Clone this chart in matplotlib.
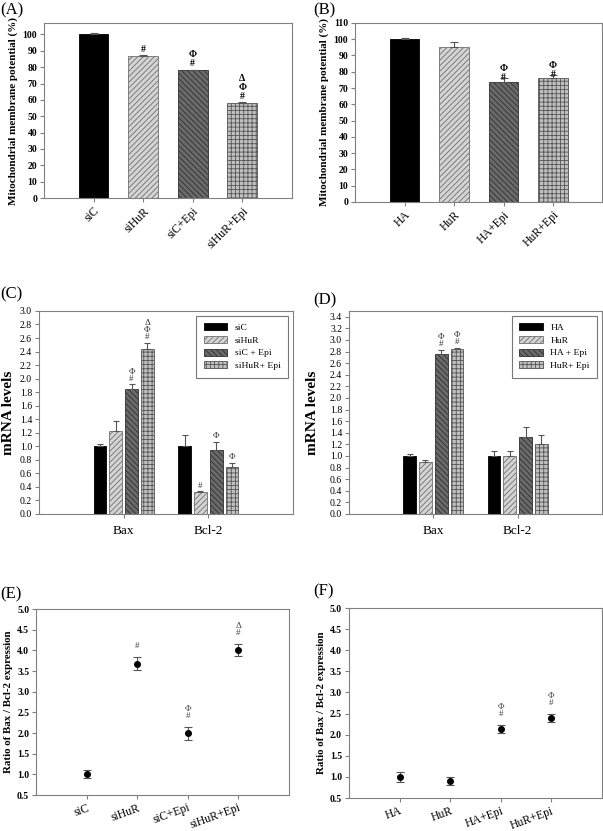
import numpy as np
import matplotlib.pyplot as plt

plt.rcParams['font.family'] = ['Liberation Serif', 'DejaVu Serif']
plt.rcParams['hatch.linewidth'] = 0.6

# ---- data ----
groups_si = ["siC", "siHuR", "siC+Epi", "siHuR+Epi"]
groups_ha = ["HA", "HuR", "HA+Epi", "HuR+Epi"]
legend_si = ["siC", "siHuR", "siC + Epi", "siHuR+ Epi"]
legend_ha = ["HA", "HuR", "HA + Epi", "HuR+ Epi"]
genes = ["Bax", "Bcl-2"]

mmp_si = [100, 87, 78, 58]
mmp_si_err = [1.2, 0.5, 0.5, 0.5]
mmp_si_sig = ["", "#", "Φ\n#", "Δ\nΦ\n#"]

mmp_ha = [100, 95, 74, 76]
mmp_ha_err = [1, 3, 2, 2]
mmp_ha_sig = ["", "", "Φ\n#", "Φ\n#"]

# rows = treatment group, cols = Bax, Bcl-2
mrna_si = [[1.0, 1.01], [1.23, 0.33], [1.85, 0.94], [2.44, 0.69]]
mrna_si_err = [[0.03, 0.15], [0.15, 0.01], [0.07, 0.13], [0.09, 0.07]]
mrna_si_sig = [["", ""], ["", "#"], ["Φ\n#", "Φ"], ["Δ\nΦ\n#", "Φ"]]

mrna_ha = [[1.0, 1.0], [0.9, 1.0], [2.76, 1.32], [2.85, 1.2]]
mrna_ha_err = [[0.04, 0.09], [0.03, 0.09], [0.07, 0.18], [0.02, 0.17]]
mrna_ha_sig = [["", ""], ["", ""], ["Φ\n#", ""], ["Φ\n#", ""]]

ratio_si = [1.0, 3.68, 1.99, 4.01]
ratio_si_err = [0.1, 0.15, 0.15, 0.15]
ratio_si_sig = ["", "#", "Φ\n#", "Δ\n#"]

ratio_ha = [1.0, 0.91, 2.13, 2.39]
ratio_ha_err = [0.12, 0.09, 0.09, 0.09]
ratio_ha_sig = ["", "", "Φ\n#", "Φ\n#"]

# bar styles: solid black, light hatched, dark hatched, crosshatched
styles = [
    dict(facecolor="black", edgecolor="black", hatch=None),
    dict(facecolor="#d4d4d4", edgecolor="#707070", hatch="//////"),
    dict(facecolor="#6a6a6a", edgecolor="#303030", hatch="\\\\\\\\\\\\"),
    dict(facecolor="#c0c0c0", edgecolor="#555555", hatch="++++"),
]

spine_col = "#808080"


def frame(ax):
    for s in ax.spines.values():
        s.set_color(spine_col)
        s.set_linewidth(0.8)
    ax.tick_params(direction="out", length=3, color=spine_col, width=0.8, pad=2)


def mmp_panel(ax, names, vals, errs, sig, ylim, ticks, sig_off=1):
    x = np.arange(len(names))
    for i in range(len(names)):
        st = styles[i]
        ax.bar(x[i], vals[i], width=0.6, facecolor=st["facecolor"], edgecolor=st["edgecolor"],
               hatch=st["hatch"], linewidth=0.6)
        ax.errorbar(x[i], vals[i], yerr=[[0], [errs[i]]], fmt="none", ecolor="#555555",
                    elinewidth=0.8, capsize=3, capthick=0.8)
        if sig[i]:
            ax.annotate(sig[i], xy=(x[i], vals[i] + errs[i]), xytext=(0, sig_off),
                        textcoords="offset points", ha="center", va="bottom",
                        fontsize=7, linespacing=1.0, fontweight="bold")
    ax.set_xlim(-1, 4)
    ax.set_ylim(*ylim)
    ax.set_yticks(ticks)
    frame(ax)
    ax.set_xticks(x)
    ax.set_xticklabels(names, rotation=45, ha="right", rotation_mode="anchor", fontsize=8.5)
    ax.set_ylabel("Mitochondrial membrane potential (%)", fontsize=8, fontweight="bold", labelpad=3)
    for lab in ax.get_yticklabels():
        lab.set_fontweight("bold")
        lab.set_fontsize(7)


def mrna_panel(ax, vals, errs, sig, labels, ylim, ticks, label_x):
    x = np.arange(len(genes))
    step = 0.187
    for i in range(len(vals)):
        st = styles[i]
        xs = x + (i - 1.5) * step
        ax.bar(xs, vals[i], width=0.15, facecolor=st["facecolor"], edgecolor=st["edgecolor"],
               hatch=st["hatch"], linewidth=0.6, label=labels[i])
        ax.errorbar(xs, vals[i], yerr=[np.zeros(len(genes)), errs[i]], fmt="none",
                    ecolor="#555555", elinewidth=0.8, capsize=2.5, capthick=0.8)
        for j in range(len(genes)):
            if sig[i][j]:
                ax.annotate(sig[i][j], xy=(xs[j], vals[i][j] + errs[i][j]), xytext=(0, 1),
                            textcoords="offset points", ha="center", va="bottom",
                            fontsize=6.5, linespacing=0.85, color="#333333")
    ax.set_xlim(-1, 2)
    ax.set_ylim(*ylim)
    frame(ax)
    ax.set_yticks(ticks)
    ax.set_yticklabels([f"{t:.1f}" for t in ticks], fontsize=7)
    ax.set_xticks(x)
    ax.set_xticklabels(genes, fontsize=9.5)
    ax.tick_params(axis="x", pad=5)
    ax.set_ylabel("mRNA levels", fontsize=11, fontweight="bold")
    ax.yaxis.set_label_coords(label_x, 0.5)
    leg = ax.legend(loc="upper right", fontsize=6.8, frameon=True, fancybox=False,
                    handlelength=2.5, handleheight=0.8, borderpad=0.8, labelspacing=0.4)
    leg.get_frame().set_edgecolor("#555555")
    leg.get_frame().set_linewidth(0.8)


def ratio_panel(ax, names, vals, errs, sig):
    x = np.arange(len(names))
    ax.errorbar(x, vals, yerr=errs, fmt="o", color="black", markersize=4,
                ecolor="#555555", elinewidth=0.8, capsize=3, capthick=0.8)
    for i in range(len(names)):
        if sig[i]:
            ax.annotate(sig[i], xy=(x[i], vals[i] + errs[i]), xytext=(0, 5),
                        textcoords="offset points", ha="center", va="bottom",
                        fontsize=6.5, linespacing=0.85, color="#444444")
    ax.set_xlim(-1, 4)
    ax.set_ylim(0.5, 5.0)
    frame(ax)
    ticks = np.arange(0.5, 5.01, 0.5)
    ax.set_yticks(ticks)
    ax.set_yticklabels([f"{t:.1f}" for t in ticks], fontsize=7, fontweight="bold")
    ax.set_xticks(x)
    ax.set_xticklabels(names, rotation=20, ha="right", rotation_mode="anchor", fontsize=8.5)
    ax.set_ylabel("Ratio of Bax / Bcl-2 expression", fontsize=7.8, fontweight="bold", labelpad=3)


fig = plt.figure(figsize=(6.03, 8.31), dpi=100)

axA = fig.add_axes([0.073, 0.7617, 0.411, 0.2106])
axB = fig.add_axes([0.589, 0.757, 0.410, 0.2154])
axC = fig.add_axes([0.0647, 0.3815, 0.421, 0.2443])
axD = fig.add_axes([0.5788, 0.3815, 0.4196, 0.2443])
axE = fig.add_axes([0.06, 0.0433, 0.419, 0.2238])
axF = fig.add_axes([0.5788, 0.0397, 0.4196, 0.2286])

mmp_panel(axA, groups_si, mmp_si, mmp_si_err, mmp_si_sig, (0, 107), np.arange(0, 101, 10))
mmp_panel(axB, groups_ha, mmp_ha, mmp_ha_err, mmp_ha_sig, (0, 110), np.arange(0, 111, 10), sig_off=-3)
mrna_panel(axC, mrna_si, mrna_si_err, mrna_si_sig, legend_si, (0, 3.0), np.arange(0, 3.01, 0.2), -0.095)
mrna_panel(axD, mrna_ha, mrna_ha_err, mrna_ha_sig, legend_ha, (0, 3.5), np.arange(0, 3.41, 0.2), -0.12)
ratio_panel(axE, groups_si, ratio_si, ratio_si_err, ratio_si_sig)
ratio_panel(axF, groups_ha, ratio_ha, ratio_ha_err, ratio_ha_sig)

for lab, xp, yp in [("(A)", 0.0, 831 - 2), ("(B)", 313, 831 - 2), ("(C)", 0.0, 831 - 286),
                    ("(D)", 313, 831 - 292), ("(E)", 0.0, 831 - 586), ("(F)", 313, 831 - 583)]:
    fig.text(xp / 603, yp / 831, lab, fontsize=12, va="top", ha="left")

fig.savefig("out.png", dpi=100)
